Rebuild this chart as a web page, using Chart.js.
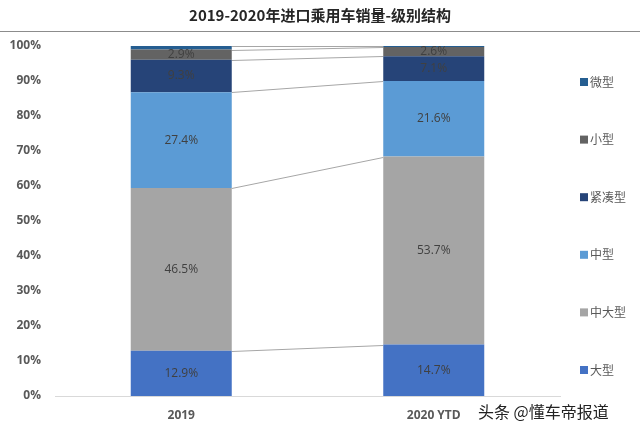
<!DOCTYPE html>
<html>
<head>
<meta charset="utf-8">
<script src="https://cdn.jsdelivr.net/npm/chart.js@4/dist/chart.umd.min.js"></script>
<style>
  html,body{margin:0;padding:0;background:#fff;}
  #wrap{position:relative;width:640px;height:432px;}
</style>
</head>
<body>
<div id="wrap"><canvas id="c" width="640" height="432"></canvas></div>
<script>
// data
const categories = ['2019', '2020 YTD'];
const seriesNames = ['大型', '中大型', '中型', '紧凑型', '小型', '微型'];
const daXing    = [12.9, 14.7];
const zhongDa   = [46.5, 53.7];
const zhong     = [27.4, 21.6];
const jinCou    = [9.3, 7.1];
const xiao      = [2.9, 2.6];
const wei       = [1.0, 0.3];
const yTicks    = [0, 10, 20, 30, 40, 50, 60, 70, 80, 90, 100];
const titleText = '2019-2020年进口乘用车销量-级别结构';
const watermark = '头条 @懂车帝报道';

const colors = ['#4472C4', '#A5A5A5', '#5B9BD5', '#264478', '#636363', '#255E91'];
const values = [daXing, zhongDa, zhong, jinCou, xiao, wei];
const CJK = '"Noto Sans CJK SC", "Noto Sans", sans-serif';

// series lines between the two bars + segment labels + legend + title
const decor = {
  id: 'decor',
  beforeDatasetsDraw(chart){
    const ctx = chart.ctx; const y = chart.scales.y;
    const m0 = chart.getDatasetMeta(0);
    const b0 = m0.data[0], b1 = m0.data[1];
    const x0 = b0.x + b0.width/2, x1 = b1.x - b1.width/2;
    let c0 = 0, c1 = 0;
    ctx.save(); ctx.strokeStyle = '#a6a6a6'; ctx.lineWidth = 1;
    values.forEach(v => {
      c0 += v[0]; c1 += v[1];
      ctx.beginPath();
      ctx.moveTo(x0, Math.round(y.getPixelForValue(c0)) + 0.5);
      ctx.lineTo(x1, Math.round(y.getPixelForValue(c1)) + 0.5);
      ctx.stroke();
    });
    ctx.restore();
  },
  afterDatasetsDraw(chart){
    const ctx = chart.ctx;
    ctx.save();
    ctx.font = '12px "Open Sans", "Noto Sans", sans-serif';
    ctx.fillStyle = '#404040'; ctx.textAlign = 'center'; ctx.textBaseline = 'middle';
    chart.data.datasets.forEach((ds, i) => {
      const meta = chart.getDatasetMeta(i);
      meta.data.forEach((bar, j) => {
        const v = ds.data[j];
        if (v < 2) return;
        ctx.fillText(v.toFixed(1) + '%', bar.x, (bar.y + bar.base)/2);
      });
    });
    ctx.restore();
  },
  afterDraw(chart){
    const ctx = chart.ctx;
    ctx.save();
    // title
    ctx.font = 'bold 15px ' + CJK; ctx.fillStyle = '#262626';
    ctx.textAlign = 'center'; ctx.textBaseline = 'middle';
    ctx.fillText(titleText, 320, 15);
    ctx.strokeStyle = '#8c8c8c'; ctx.lineWidth = 1;
    ctx.beginPath(); ctx.moveTo(0, 31.5); ctx.lineTo(640, 31.5); ctx.stroke();
    // legend, top item is the last series
    ctx.font = '12px ' + CJK; ctx.textAlign = 'left';
    const n = seriesNames.length;
    for (let k = 0; k < n; k++) {
      const i = n - 1 - k;
      const yy = 82 + k * 57.6;
      ctx.fillStyle = colors[i]; ctx.fillRect(580, yy - 4, 8, 8);
      ctx.fillStyle = '#595959'; ctx.fillText(seriesNames[i], 590, yy);
    }
    // watermark
    ctx.font = '16px ' + CJK; ctx.fillStyle = '#222';
    ctx.fillText(watermark, 478, 412);
    ctx.restore();
  }
};

new Chart(document.getElementById('c'), {
  type: 'bar',
  data: {
    labels: categories,
    datasets: seriesNames.map((name, i) => ({
      label: name, data: values[i], backgroundColor: colors[i],
      borderWidth: 0, barPercentage: 0.4, categoryPercentage: 1
    }))
  },
  options: {
    responsive: false, animation: false,
    layout: { padding: { left: 0, right: 80, top: 46, bottom: 0 } },
    plugins: { legend: { display: false }, tooltip: { enabled: false }, title: { display: false } },
    scales: {
      x: {
        stacked: true,
        grid: { display: false, drawTicks: false },
        border: { display: true, color: '#d9d9d9' },
        ticks: { padding: 12, color: '#595959', font: { family: '"Open Sans", sans-serif', size: 12, weight: 'bold' } },
        afterFit(s){ s.height = 36; }
      },
      y: {
        stacked: true, min: 0, max: 100,
        afterBuildTicks(s){ s.ticks = yTicks.map(v => ({ value: v })); },
        grid: { display: false, drawTicks: false },
        border: { display: false },
        ticks: { padding: 14, color: '#595959', callback: v => v + '%',
                 font: { family: '"Open Sans", sans-serif', size: 12, weight: 'bold' } },
        afterFit(s){ s.width = 55; }
      }
    }
  },
  plugins: [decor]
});
</script>
</body>
</html>
